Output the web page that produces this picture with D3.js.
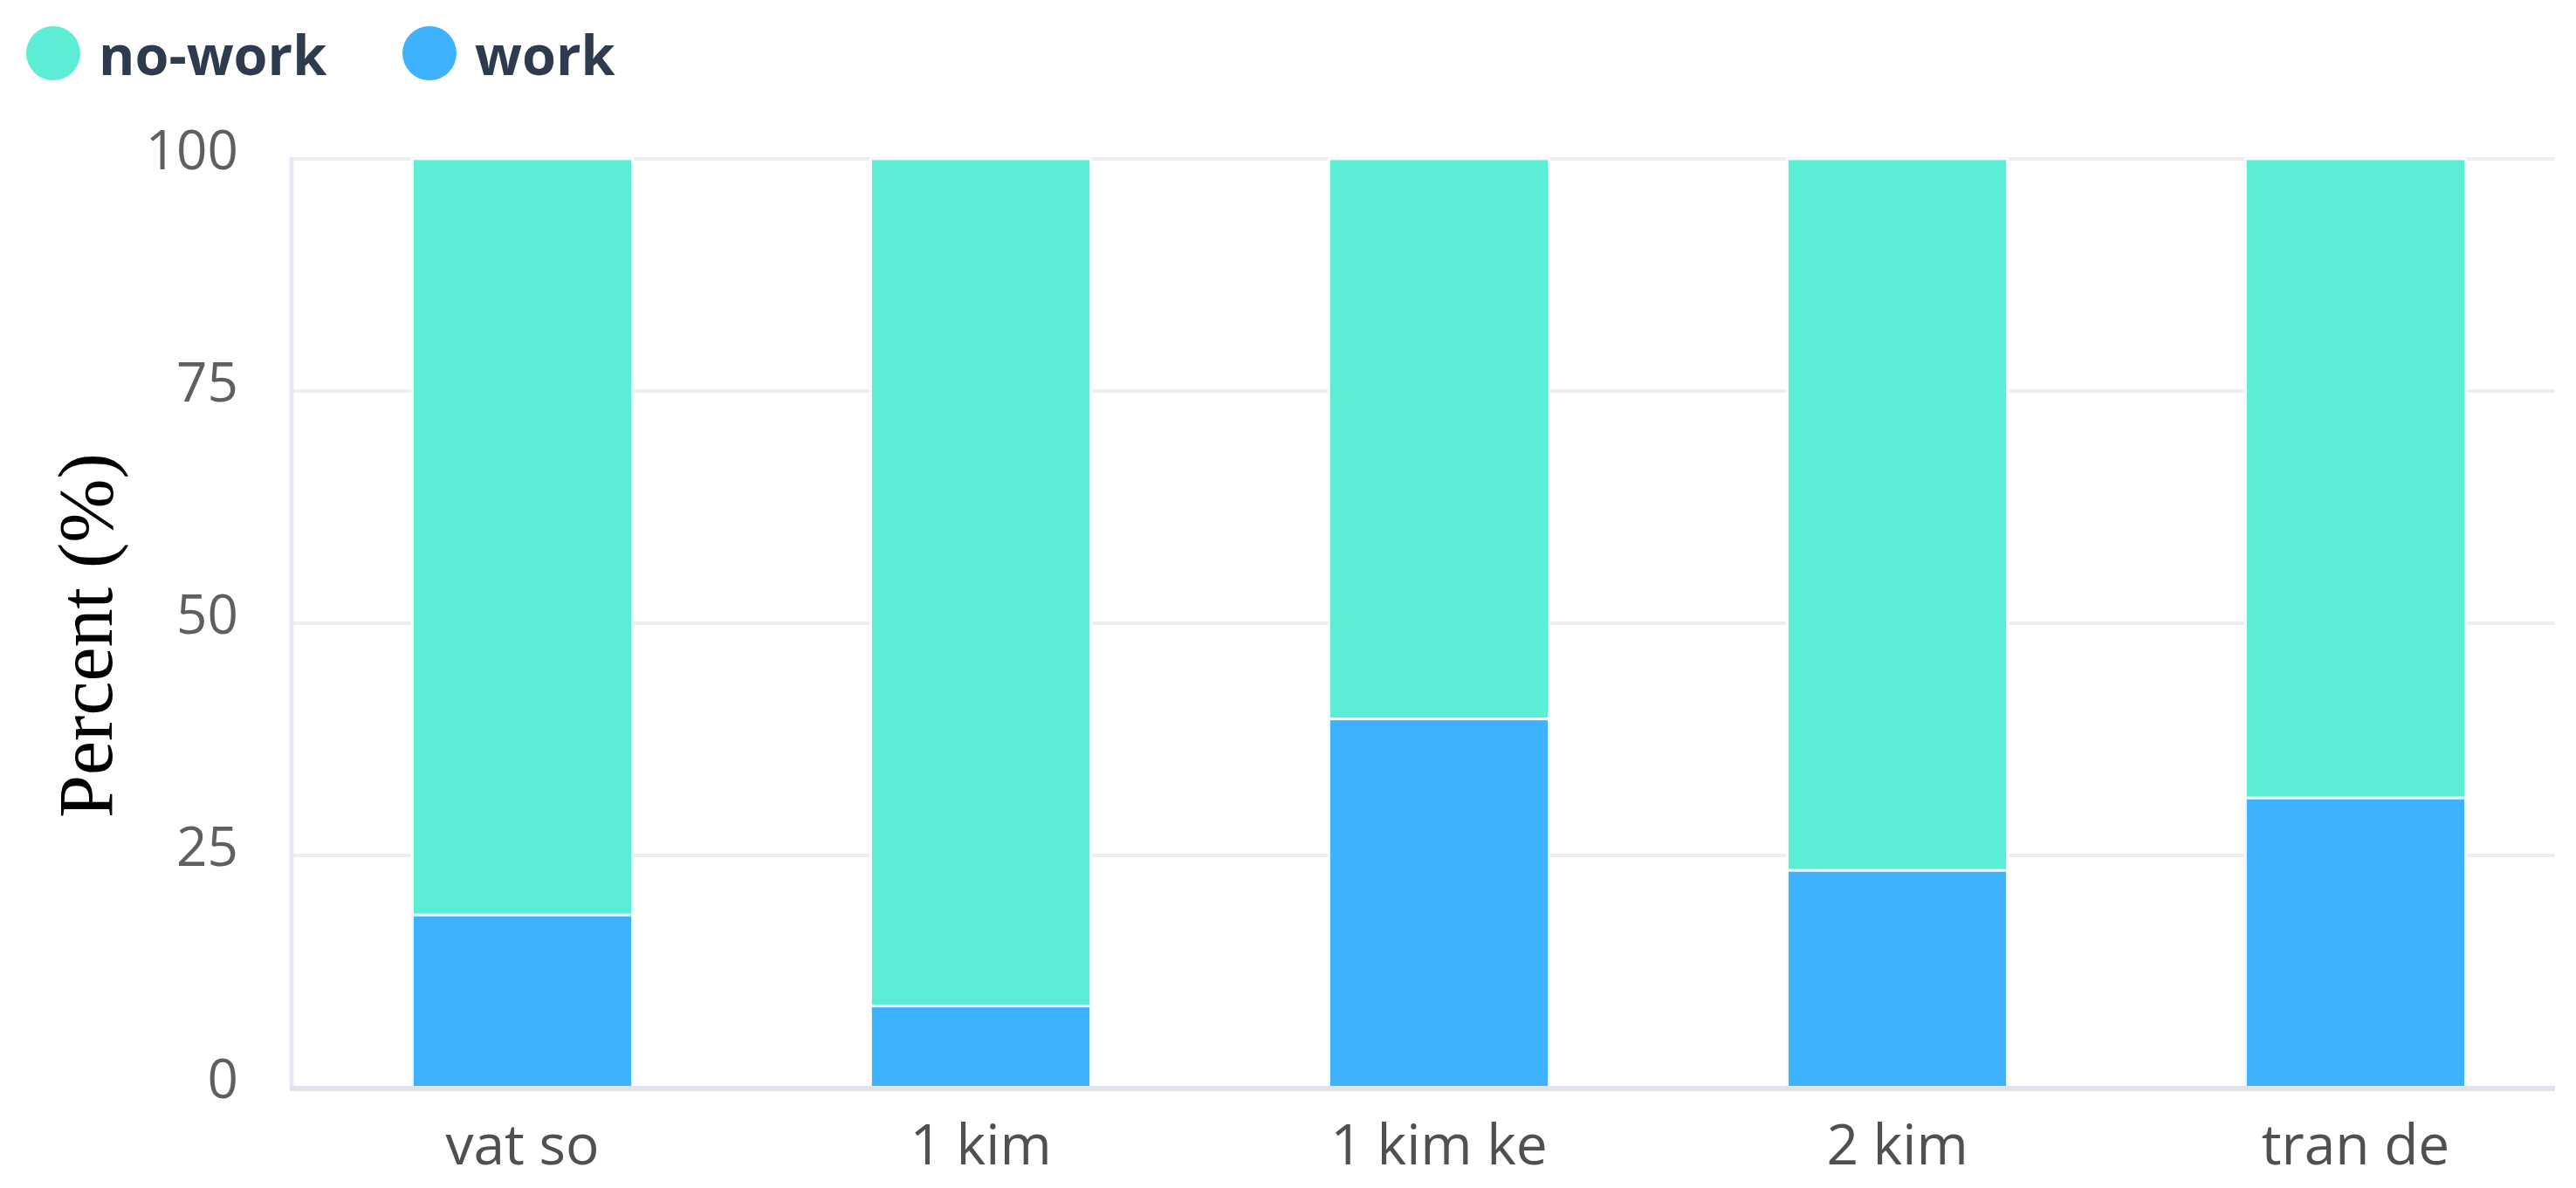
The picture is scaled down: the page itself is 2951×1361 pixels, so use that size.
<!DOCTYPE html>
<html>
<head>
<meta charset="utf-8">
<script src="https://cdn.jsdelivr.net/npm/d3@7"></script>
<style>
  html, body { margin: 0; padding: 0; background: #ffffff; }
  svg { display: block; }
</style>
</head>
<body>
<svg id="chart" width="2951" height="1361"></svg>
<script>
// ---- data ----
const categories = ["vat so", "1 kim", "1 kim ke", "2 kim", "tran de"];
const workValues = [18.6, 8.8, 39.7, 23.4, 31.2];
const noWorkValues = [81.4, 91.2, 60.3, 76.6, 68.8];
const seriesNames = ["no-work", "work"];
const yTicks = [0, 25, 50, 75, 100];
const yTitle = "Percent (%)";

// ---- layout ----
const plotLeft = 334, plotRight = 2927, plotTop = 182, plotBottom = 1246;
const colors = { "no-work": "#5CEDD5", "work": "#3EB2FF" };

const svg = d3.select("#chart");

const x = d3.scaleBand()
  .domain(categories)
  .range([336, 336 + 525 * 5])
  .paddingInner(0.52)
  .paddingOuter(0.26);

const y = d3.scaleLinear().domain([0, 100]).range([plotBottom, plotTop]);

// gridlines
svg.append("g").selectAll("line")
  .data(yTicks.filter(t => t > 0))
  .join("line")
  .attr("x1", plotLeft).attr("x2", plotRight)
  .attr("y1", d => y(d)).attr("y2", d => y(d))
  .attr("stroke", "#eeeeee").attr("stroke-width", 4);

// left axis line
svg.append("line")
  .attr("x1", plotLeft).attr("x2", plotLeft)
  .attr("y1", y(100) - 2).attr("y2", y(0))
  .attr("stroke", "#e6e9f3").attr("stroke-width", 5);

// stacked data
const rows = categories.map((c, i) => ({ cat: c, "work": workValues[i], "no-work": noWorkValues[i] }));
const stacked = d3.stack().keys(["work", "no-work"])(rows);

svg.append("g").selectAll("g")
  .data(stacked)
  .join("g")
  .attr("fill", d => colors[d.key])
  .selectAll("rect")
  .data(d => d)
  .join("rect")
  .attr("x", d => x(d.data.cat))
  .attr("width", x.bandwidth())
  .attr("y", d => y(d[1]))
  .attr("height", d => y(d[0]) - y(d[1]))
  .attr("stroke", "rgba(255,255,255,0.85)")
  .attr("stroke-width", 3);

// bottom axis line
svg.append("line")
  .attr("x1", plotLeft - 2).attr("x2", plotRight)
  .attr("y1", y(0) + 1).attr("y2", y(0) + 1)
  .attr("stroke", "#dfe3ed").attr("stroke-width", 6);

// y tick labels
svg.append("g").selectAll("text")
  .data(yTicks)
  .join("text")
  .attr("x", 273)
  .attr("y", d => y(d) + 12)
  .attr("text-anchor", "end")
  .attr("font-family", "'Open Sans', 'Noto Sans', sans-serif")
  .attr("font-size", 62)
  .attr("fill", "#5f5f5f")
  .text(d => d);

// x labels
svg.append("g").selectAll("text")
  .data(categories)
  .join("text")
  .attr("x", d => x(d) + x.bandwidth() / 2)
  .attr("y", 1334)
  .attr("text-anchor", "middle")
  .attr("font-family", "'Open Sans', 'Noto Sans', sans-serif")
  .attr("font-size", 64)
  .attr("fill", "#505050")
  .text(d => d);

// y title
svg.append("text")
  .attr("transform", `translate(128, ${728}) rotate(-90)`)
  .attr("text-anchor", "middle")
  .attr("font-family", "'Liberation Serif', 'Times New Roman', serif")
  .attr("font-size", 88)
  .attr("fill", "#000000")
  .text(yTitle);

// legend
const legendX = [61, 492];
const lg = svg.append("g").selectAll("g")
  .data(seriesNames)
  .join("g")
  .attr("transform", (d, i) => `translate(${legendX[i]}, 61)`);
lg.append("circle").attr("r", 31).attr("fill", d => colors[d]);
lg.append("text")
  .attr("x", 52)
  .attr("y", 25)
  .attr("font-family", "'Open Sans', 'Noto Sans', sans-serif")
  .attr("font-weight", 700)
  .attr("font-size", 63)
  .attr("fill", "#2e3b4e")
  .text(d => d);
</script>
</body>
</html>
